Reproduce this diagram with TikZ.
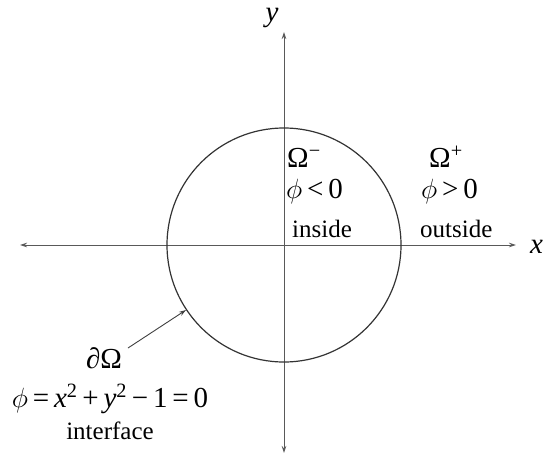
\documentclass[tikz,border=0pt]{standalone}
\usepackage{fontspec}
\setmainfont{Liberation Serif}
\usetikzlibrary{arrows.meta}
\newcommand{\myphi}{\raisebox{0pt}{\scalebox{1.12}{$\phi$}}}
\begin{document}
\begin{tikzpicture}[x=1pt,y=-1pt,
  axis/.style={draw=black!65,line width=0.9pt,-{Stealth[length=7pt,width=4.5pt]}},
  lbl/.style={inner sep=0pt,anchor=base west,font=\fontsize{25}{30}\selectfont},
  mlbl/.style={inner sep=0pt,anchor=base west,font=\fontsize{29}{34}\selectfont}]
\useasboundingbox (0,0) rectangle (543,461);
\coordinate (c) at (284,245);
\coordinate (xl) at (20,245);
\coordinate (xr) at (516,245);
\coordinate (yt) at (284,32);
\coordinate (yb) at (284,453);
\coordinate (as) at (128,348);
\coordinate (ae) at (186,310);
\draw[axis] (c) -- (xl);
\draw[axis] (c) -- (xr);
\draw[axis] (c) -- (yt);
\draw[axis] (c) -- (yb);
\draw[draw=black!80,line width=1.2pt] (c) circle[radius=117];
\node[mlbl,anchor=base] (ylab) at (272,21) {\textit{y}};
\node[mlbl] (xlab) at (530,253) {\textit{x}};
\node[mlbl] (om) at (287,167) {Ω\textsuperscript{−}};
\node[mlbl] (pm) at (286,198) {\myphi\,<\,0};
\node[lbl] (in) at (292,237) {inside};
\node[mlbl] (op) at (429,167) {Ω\textsuperscript{+}};
\node[mlbl] (pp) at (421,198) {\myphi\,>\,0};
\node[lbl] (out) at (420,237) {outside};
\node[mlbl,anchor=base] (dO) at (104,368) {∂Ω};
\node[mlbl,anchor=base] (eq) at (110,407) {\myphi\,=\,\textit{x}\textsuperscript{2}\,+\,\textit{y}\textsuperscript{2}\,−\,1\,=\,0};
\node[lbl,anchor=base] (itf) at (110,439) {interface};
\draw[draw=black!75,line width=0.9pt,-{Stealth[length=7pt,width=4.5pt]}] (as) -- (ae);
\end{tikzpicture}
\end{document}
